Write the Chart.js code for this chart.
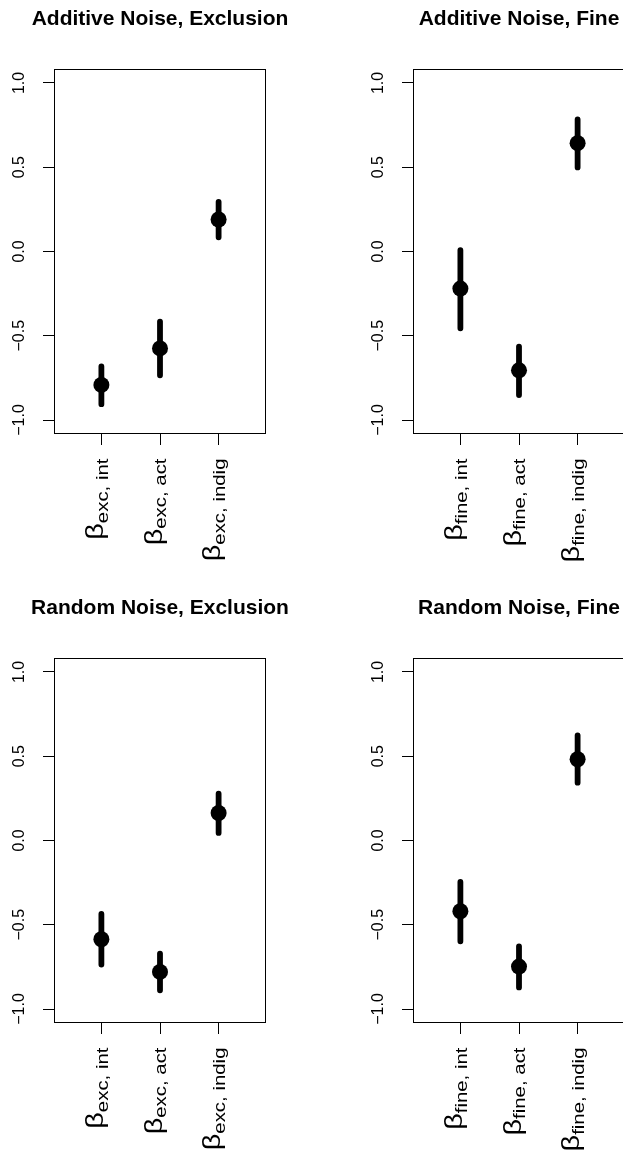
<!DOCTYPE html>
<html>
<head>
<meta charset="utf-8">
<script src="https://cdn.jsdelivr.net/npm/chart.js@4.4.1/dist/chart.umd.min.js"></script>
<style>
  body { margin: 0; background: #fff; width: 623px; height: 1154px; overflow: hidden; position: relative; }
  canvas { position: absolute; }
</style>
</head>
<body>
<canvas id="c0" width="320" height="589" style="left:0;top:0"></canvas>
<canvas id="c1" width="320" height="589" style="left:359px;top:0"></canvas>
<canvas id="c2" width="320" height="565" style="left:0;top:589px"></canvas>
<canvas id="c3" width="320" height="565" style="left:359px;top:589px"></canvas>
<script>
const FONT = '"Liberation Sans", Arial, Helvetica, sans-serif';

// positions of the three coefficients and the y tick values
const positions = [1, 2, 3];
const yTickValues = [-1, -0.5, 0, 0.5, 1];

const excLabels = ['exc, int', 'exc, act', 'exc, indig'];
const fineLabels = ['fine, int', 'fine, act', 'fine, indig'];

// Additive noise, exclusion
const addExcEst = [-0.792, -0.575, 0.19];
const addExcLo = [-0.906, -0.735, 0.084];
const addExcHi = [-0.682, -0.416, 0.295];

// Additive noise, fine
const addFineEst = [-0.22, -0.705, 0.643];
const addFineLo = [-0.456, -0.852, 0.499];
const addFineHi = [0.008, -0.564, 0.784];

// Random noise, exclusion
const randExcEst = [-0.586, -0.78, 0.163];
const randExcLo = [-0.736, -0.889, 0.045];
const randExcHi = [-0.436, -0.671, 0.278];

// Random noise, fine
const randFineEst = [-0.42, -0.748, 0.482];
const randFineLo = [-0.598, -0.872, 0.343];
const randFineHi = [-0.246, -0.628, 0.624];

// box around the plot region
const framePlugin = {
    id: 'frame',
    afterDraw(chart) {
        const { ctx, chartArea: a } = chart;
        ctx.save();
        ctx.strokeStyle = '#000';
        ctx.lineWidth = 1;
        ctx.strokeRect(a.left, a.top, a.right - a.left, a.bottom - a.top);
        ctx.restore();
    }
};

// rotated beta labels with a subscript under each x tick
const betaLabelPlugin = {
    id: 'betaLabels',
    afterDraw(chart, args, opts) {
        const ctx = chart.ctx;
        const xs = chart.scales.x;
        const top = chart.chartArea.bottom + 25;
        ctx.save();
        ctx.fillStyle = '#000';
        ctx.textBaseline = 'alphabetic';
        ctx.textAlign = 'left';
        opts.subs.forEach((sub, i) => {
            const px = xs.getPixelForValue(positions[i]);
            ctx.save();
            ctx.translate(px + 1.5, top);
            ctx.rotate(-Math.PI / 2);
            ctx.scale(1.2, 1);
            ctx.font = '17px ' + FONT;
            const wSub = ctx.measureText(sub).width;
            ctx.font = '24px ' + FONT;
            const wBeta = ctx.measureText('\u03b2').width;
            ctx.fillText('\u03b2', -(wSub + wBeta), 0);
            ctx.font = '17px ' + FONT;
            ctx.fillText(sub, -wSub, 4.8);
            ctx.restore();
        });
        ctx.restore();
    }
};

function minusLabel(v) {
    const s = Math.abs(v).toFixed(1);
    return v < 0 ? '\u2212' + s : s;
}

function crearPanel(id, titulo, est, lo, hi, subs) {
    const intervalos = positions.flatMap((x, i) => [
        { x: x, y: lo[i] },
        { x: x, y: hi[i] },
        { x: x, y: null }
    ]);
    const puntos = positions.map((x, i) => ({ x: x, y: est[i] }));

    return new Chart(document.getElementById(id), {
        type: 'scatter',
        data: {
            datasets: [{
                data: intervalos,
                showLine: true,
                spanGaps: false,
                borderColor: '#000',
                borderWidth: 5.8,
                borderCapStyle: 'round',
                pointRadius: 0
            }, {
                data: puntos,
                backgroundColor: '#000',
                borderColor: '#000',
                borderWidth: 0,
                pointRadius: 8
            }]
        },
        options: {
            responsive: false,
            animation: false,
            events: [],
            layout: { padding: 0 },
            plugins: {
                legend: { display: false },
                tooltip: { enabled: false },
                title: {
                    display: true,
                    text: titulo,
                    color: '#000',
                    font: { family: FONT, size: 21, weight: 'bold', lineHeight: 1.2 },
                    padding: { top: 6.8, bottom: 37.5 }
                },
                betaLabels: { subs: subs }
            },
            scales: {
                x: {
                    type: 'linear',
                    min: 0.2,
                    max: 3.8,
                    afterBuildTicks: s => { s.ticks = positions.map(v => ({ value: v })); },
                    afterFit: s => { s.height = s.chart.height - 433.5; },
                    border: { display: false },
                    grid: { drawOnChartArea: false, drawTicks: true, tickLength: 11.5, color: '#000', lineWidth: 1 },
                    ticks: { autoSkip: false, callback: () => '' }
                },
                y: {
                    type: 'linear',
                    min: -1.08,
                    max: 1.08,
                    afterBuildTicks: s => { s.ticks = yTickValues.map(v => ({ value: v })); },
                    afterFit: s => { s.width = 54.5; },
                    border: { display: false },
                    grid: { drawOnChartArea: false, drawTicks: true, tickLength: 11.5, color: '#000', lineWidth: 1 },
                    ticks: {
                        color: '#000',
                        font: { family: FONT, size: 16 },
                        minRotation: 90,
                        maxRotation: 90,
                        crossAlign: 'center',
                        padding: 7.7,
                        autoSkip: false,
                        callback: v => minusLabel(v)
                    }
                },
                // empty right margin so the title centres over the box
                margen: {
                    type: 'linear',
                    position: 'right',
                    afterFit: s => { s.width = 54.5; },
                    border: { display: false },
                    grid: { display: false },
                    ticks: { display: false }
                }
            }
        },
        plugins: [framePlugin, betaLabelPlugin]
    });
}

crearPanel('c0', 'Additive Noise, Exclusion', addExcEst, addExcLo, addExcHi, excLabels);
crearPanel('c1', 'Additive Noise, Fine', addFineEst, addFineLo, addFineHi, fineLabels);
crearPanel('c2', 'Random Noise, Exclusion', randExcEst, randExcLo, randExcHi, excLabels);
crearPanel('c3', 'Random Noise, Fine', randFineEst, randFineLo, randFineHi, fineLabels);
</script>
</body>
</html>
